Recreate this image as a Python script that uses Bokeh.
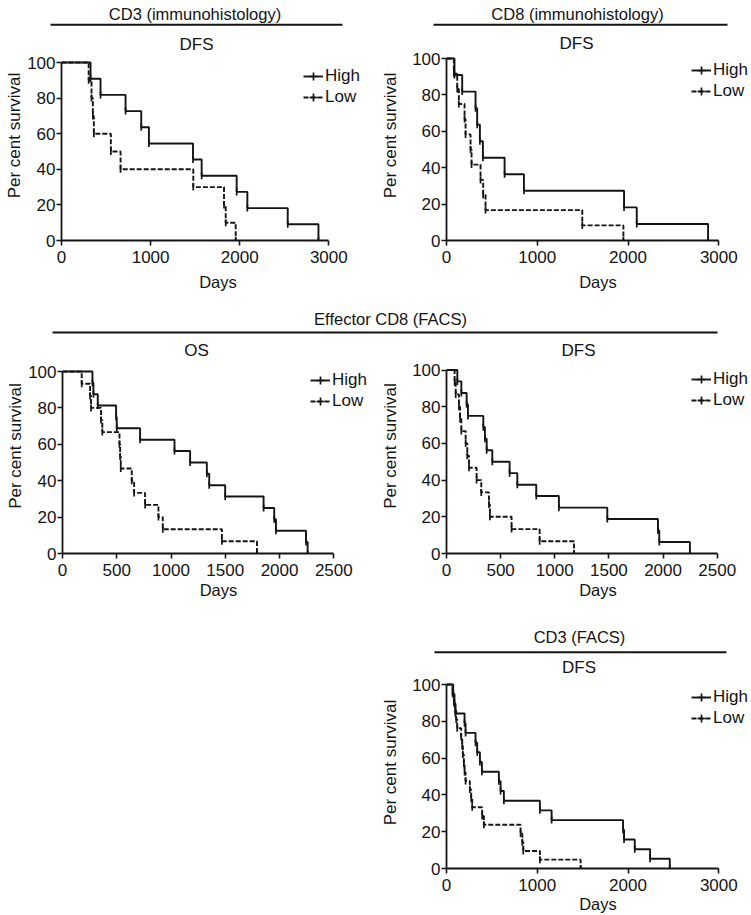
import numpy as np
from bokeh.plotting import figure
from bokeh.models import Range1d, FixedTicker, Legend, LegendItem, Spacer
from bokeh.layouts import column, row
from bokeh.core.properties import value
from bokeh.embed import file_html
from bokeh.resources import INLINE

# ---------------- data ----------------
group_labels = ["High", "Low"]

# CD3 (immunohistology) - DFS
cd3_ihc_high_days = [326, 438, 719, 895, 981, 1476, 1573, 1966, 2086, 2539, 2884]
cd3_ihc_high_surv = [90.9, 81.8, 72.7, 63.6, 54.5, 45.5, 36.4, 27.3, 18.2, 9.1, 0]
cd3_ihc_low_days = [305, 337, 352, 363, 554, 663, 1479, 1824, 1843, 1955]
cd3_ihc_low_surv = [90, 80, 70, 60, 50, 40, 30, 20, 10, 0]

# CD8 (immunohistology) - DFS
cd8_ihc_high_days = [88, 173, 320, 338, 368, 401, 640, 853, 1956, 2096, 2882]
cd8_ihc_high_surv = [90.9, 81.8, 72.7, 63.6, 54.5, 45.5, 36.4, 27.3, 18.2, 9.1, 0]
cd8_ihc_low_days = [81, 118, 136, 199, 210, 265, 276, 375, 404, 430, 1496, 1949]
cd8_ihc_low_surv = [91.7, 83.3, 75.0, 66.7, 58.3, 50.0, 41.7, 33.3, 25.0, 16.7, 8.3, 0]

# Effector CD8 (FACS) - OS
eff_os_high_days = [276, 285, 325, 494, 500, 715, 1032, 1176, 1330, 1352, 1499, 1853, 1951, 1967, 2244, 2259]
eff_os_high_surv = [93.8, 87.5, 81.3, 75.0, 68.8, 62.5, 56.3, 50.0, 43.8, 37.5, 31.3, 25.0, 18.8, 12.5, 6.3, 0]
eff_os_low_days = [177, 254, 263, 355, 367, 525, 531, 537, 638, 660, 761, 884, 924, 1469, 1792]
eff_os_low_surv = [93.3, 86.7, 80.0, 73.3, 66.7, 60.0, 53.3, 46.7, 40.0, 33.3, 26.7, 20.0, 13.3, 6.7, 0]

# Effector CD8 (FACS) - DFS
eff_dfs_high_days = [100, 137, 186, 198, 340, 355, 371, 423, 583, 654, 829, 1038, 1485, 1953, 1965, 2248]
eff_dfs_high_surv = [93.8, 87.5, 81.3, 75.0, 68.8, 62.5, 56.3, 50.0, 43.8, 37.5, 31.3, 25.0, 18.8, 12.5, 6.3, 0]
eff_dfs_low_days = [75, 85, 115, 125, 137, 177, 192, 208, 278, 321, 392, 401, 601, 860, 1177]
eff_dfs_low_surv = [93.3, 86.7, 80.0, 73.3, 66.7, 60.0, 53.3, 46.7, 40.0, 33.3, 26.7, 20.0, 13.3, 6.7, 0]

# CD3 (FACS) - DFS
cd3_facs_high_days = [74, 88, 99, 199, 210, 320, 338, 368, 390, 577, 596, 632, 1029, 1158, 1945, 1956, 2074, 2243, 2460]
cd3_facs_high_surv = [94.7, 89.5, 84.2, 78.9, 73.7, 68.4, 63.2, 57.9, 52.6, 47.4, 42.1, 36.8, 31.6, 26.3, 21.1, 15.8, 10.5, 5.3, 0]
cd3_facs_low_days = [66, 81, 96, 107, 118, 162, 173, 180, 191, 199, 210, 257, 272, 283, 393, 412, 816, 835, 846, 1029, 1478]
cd3_facs_low_surv = [95.2, 90.5, 85.7, 81.0, 76.2, 71.4, 66.7, 61.9, 57.1, 52.4, 47.6, 42.9, 38.1, 33.3, 28.6, 23.8, 19.0, 14.3, 9.5, 4.8, 0]

y_ticks = [0, 20, 40, 60, 80, 100]
x_ticks_3000 = [0, 1000, 2000, 3000]
x_ticks_2500 = [0, 500, 1000, 1500, 2000, 2500]

# ---------------- styling / layout ----------------
FONT = "Liberation Sans"
INK = "#141414"
PAGE_W = 751
LEFT_X, RIGHT_X = 0, 376
LEFT_W, RIGHT_W = 376, 375


def header(top, bottom, labels, rules):
    p = figure(width=PAGE_W, height=bottom - top,
               x_range=Range1d(0, PAGE_W), y_range=Range1d(bottom, top),
               x_axis_location=None, y_axis_location=None,
               toolbar_location=None, output_backend="svg", min_border=0)
    p.grid.visible = False
    p.outline_line_color = None
    for (x, y, t) in labels:
        p.text(x=[x], y=[y], text=[t], text_align="center", text_baseline="middle",
               text_font=value(FONT), text_font_size="16.5px", text_color=INK)
    for (xa, xb, y) in rules:
        p.segment(x0=[xa], y0=[y], x1=[xb], y1=[y], line_width=2, line_color=INK)
    return p


def panel(fig_left, fig_top, fig_w, fig_h, x0, xt, xmax, y100, y0, xticks,
          high, low, subtitle, sub_pos, leg_left, leg_mid, ylab_sf, xlab_sf):
    mbl = int(round(x0 - fig_left))
    mbr = 2
    mbt = 0
    mbb = int(round(fig_top + fig_h - y0))
    frame_left = fig_left + mbl
    frame_w = fig_w - mbl - mbr
    frame_h = fig_h - mbt - mbb
    frame_top = fig_top + mbt
    frame_bottom = frame_top + frame_h
    scale = (xt - x0) / xmax               # px per day
    yscale = (frame_bottom - y100) / 100.0  # px per percent
    x_end = frame_w / scale
    y_end = 100.0 + (y100 - frame_top) / yscale

    p = figure(width=fig_w, height=fig_h, x_range=Range1d(0, x_end), y_range=Range1d(0, y_end),
               toolbar_location=None, output_backend="svg",
               min_border_left=mbl, min_border_right=mbr,
               min_border_top=mbt, min_border_bottom=mbb)
    p.grid.visible = False
    p.outline_line_color = None
    p.background_fill_color = "white"

    p.xaxis.bounds = (0, xmax)
    p.yaxis.bounds = (0, 100)
    p.xaxis.ticker = FixedTicker(ticks=xticks)
    p.yaxis.ticker = FixedTicker(ticks=y_ticks)
    p.xaxis.axis_label = "Days"
    p.yaxis.axis_label = "Per cent survival"
    for ax in (p.xaxis, p.yaxis):
        ax.axis_line_width = 1.8
        ax.axis_line_color = INK
        ax.major_tick_line_color = INK
        ax.major_tick_line_width = 1.6
        ax.major_tick_out = 5
        ax.major_tick_in = 0
        ax.minor_tick_line_color = None
        ax.major_label_text_font = FONT
        ax.major_label_text_font_size = "17px"
        ax.major_label_text_color = INK
        ax.axis_label_text_font = FONT
        ax.axis_label_text_font_style = "normal"
        ax.axis_label_text_color = INK
    p.xaxis.major_label_standoff = 5
    p.yaxis.major_label_standoff = 1
    p.xaxis.axis_label_text_font_size = "16.5px"
    p.yaxis.axis_label_text_font_size = "17px"
    p.xaxis.axis_label_standoff = xlab_sf
    p.yaxis.axis_label_standoff = ylab_sf

    # panel subtitle (DFS / OS) placed above the 100 % line
    sx, sy = sub_pos
    p.text(x=[(sx - frame_left) / scale], y=[100.0 + (y100 - sy) / yscale], text=[subtitle],
           text_align="center", text_baseline="middle",
           text_font=value(FONT), text_font_size="17px", text_color=INK)

    items = []
    for (days, surv), dash, lab in zip((high, low), ("solid", "5 2"), group_labels):
        r = p.step([0] + list(days), [100] + list(surv), mode="after",
                   line_width=1.9, line_color=INK, line_dash=dash)
        p.scatter(days, surv, marker="dash", size=7, angle=np.pi / 2,
                  line_color=INK, line_width=1.7)
        # zero-size cross: invisible in the plot, gives the tick in the legend glyph
        legend_mark = p.scatter(days[:1], surv[:1], marker="cross", size=0,
                                line_color=INK, line_width=1.7)
        items.append(LegendItem(label=lab, renderers=[r, legend_mark]))

    leg_top = leg_mid - 10
    leg_h = 41
    legend = Legend(items=items,
                    location=(leg_left - frame_left, frame_bottom - (leg_top + leg_h)),
                    orientation="vertical", glyph_width=20, glyph_height=20,
                    label_height=20, spacing=1, padding=0, margin=0, label_standoff=2,
                    border_line_color=None, background_fill_alpha=0,
                    label_text_font=FONT, label_text_font_size="17px",
                    label_text_color=INK)
    p.add_layout(legend)
    return p


hA = header(0, 30,
            [(194.5, 13, "CD3 (immunohistology)"), (577, 13, "CD8 (immunohistology)")],
            [(50, 342, 24.3), (433, 727, 24.3)])

p1 = panel(LEFT_X, 30, LEFT_W, 267, 61, 328.3, 3000, 62, 240, x_ticks_3000,
           (cd3_ihc_high_days, cd3_ihc_high_surv), (cd3_ihc_low_days, cd3_ihc_low_surv),
           "DFS", (196, 43.5), 303, 76, 0, 7)
p2 = panel(RIGHT_X, 30, RIGHT_W, 267, 446, 718.3, 3000, 58, 240, x_ticks_3000,
           (cd8_ihc_high_days, cd8_ihc_high_surv), (cd8_ihc_low_days, cd8_ihc_low_surv),
           "DFS", (576, 43.3), 691, 70, 9, 7)

hB = header(297, 338,
            [(390, 318, "Effector CD8 (FACS)")],
            [(52, 717, 332)])

p3 = panel(LEFT_X, 338, LEFT_W, 267, 62, 333.3, 2500, 371, 553, x_ticks_2500,
           (eff_os_high_days, eff_os_high_surv), (eff_os_low_days, eff_os_low_surv),
           "OS", (196, 350), 310, 380, 0, 2)
p4 = panel(RIGHT_X, 338, RIGHT_W, 267, 446, 716.7, 2500, 369.5, 553, x_ticks_2500,
           (eff_dfs_high_days, eff_dfs_high_surv), (eff_dfs_low_days, eff_dfs_low_surv),
           "DFS", (578, 350), 691, 379, 9, 2)

hC = header(605, 656,
            [(579, 636.7, "CD3 (FACS)")],
            [(434, 726, 651.7)])

p5 = panel(RIGHT_X, 656, RIGHT_W, 259, 446, 718.3, 3000, 684, 868, x_ticks_3000,
           (cd3_facs_high_days, cd3_facs_high_surv), (cd3_facs_low_days, cd3_facs_low_surv),
           "DFS", (578.5, 666.7), 691, 697, 9, 1)

layout = column(
    hA,
    row(p1, p2),
    hB,
    row(p3, p4),
    hC,
    row(Spacer(width=LEFT_W, height=259), p5),
)

open("out.html", "w").write(file_html(layout, INLINE, "Survival curves"))
